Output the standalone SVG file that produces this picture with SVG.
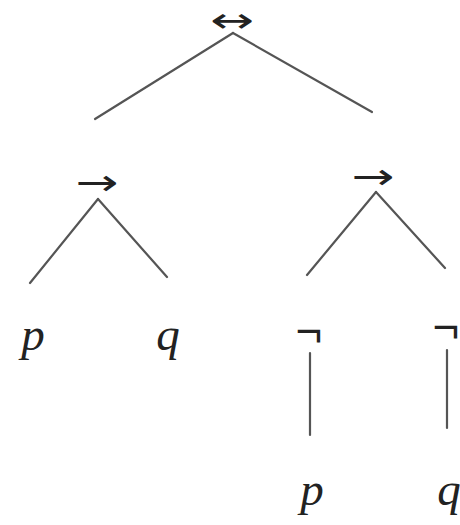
<svg xmlns="http://www.w3.org/2000/svg" width="460" height="525" viewBox="0 0 460 525">
<style>
.e{stroke:#555;stroke-width:2.2;stroke-linecap:round;fill:none}
.v{font-family:"Liberation Serif",serif;font-style:italic;font-size:47px;fill:#222}
.op{font-family:"DejaVu Sans",sans-serif;fill:#222}
.neg{font-family:"Liberation Sans",sans-serif;font-size:46px;fill:#222}
</style>
<rect width="460" height="525" fill="#fff"/>
<g id="connectors">
<line class="e" x1="233" y1="33" x2="95" y2="119"/>
<line class="e" x1="233" y1="33" x2="372" y2="112"/>
<line class="e" x1="98" y1="199" x2="30" y2="283"/>
<line class="e" x1="98" y1="199" x2="167" y2="277"/>
<line class="e" x1="376" y1="192" x2="307" y2="275"/>
<line class="e" x1="376" y1="192" x2="445" y2="268"/>
<line class="e" x1="310" y1="353" x2="310" y2="435"/>
<line class="e" x1="447" y1="350" x2="447" y2="428"/>
</g>
<g id="n-iff"><text class="op" x="232" y="32" font-size="34" text-anchor="middle" textLength="44" lengthAdjust="spacingAndGlyphs">↔</text></g>
<g id="n-imp1"><text class="op" x="97" y="195" font-size="36" text-anchor="middle" textLength="43" lengthAdjust="spacingAndGlyphs">→</text></g>
<g id="n-imp2"><text class="op" x="373" y="189" font-size="36" text-anchor="middle" textLength="43" lengthAdjust="spacingAndGlyphs">→</text></g>
<g id="n-p1"><text class="v" x="33" y="350" text-anchor="middle">p</text></g>
<g id="n-q1"><text class="v" x="168" y="350" text-anchor="middle">q</text></g>
<g id="n-neg1"><text class="neg" x="309" y="347" text-anchor="middle">¬</text></g>
<g id="n-neg2"><text class="neg" x="446" y="343" text-anchor="middle">¬</text></g>
<g id="n-p2"><text class="v" x="312" y="505" text-anchor="middle">p</text></g>
<g id="n-q2"><text class="v" x="449" y="505" text-anchor="middle">q</text></g>
</svg>
